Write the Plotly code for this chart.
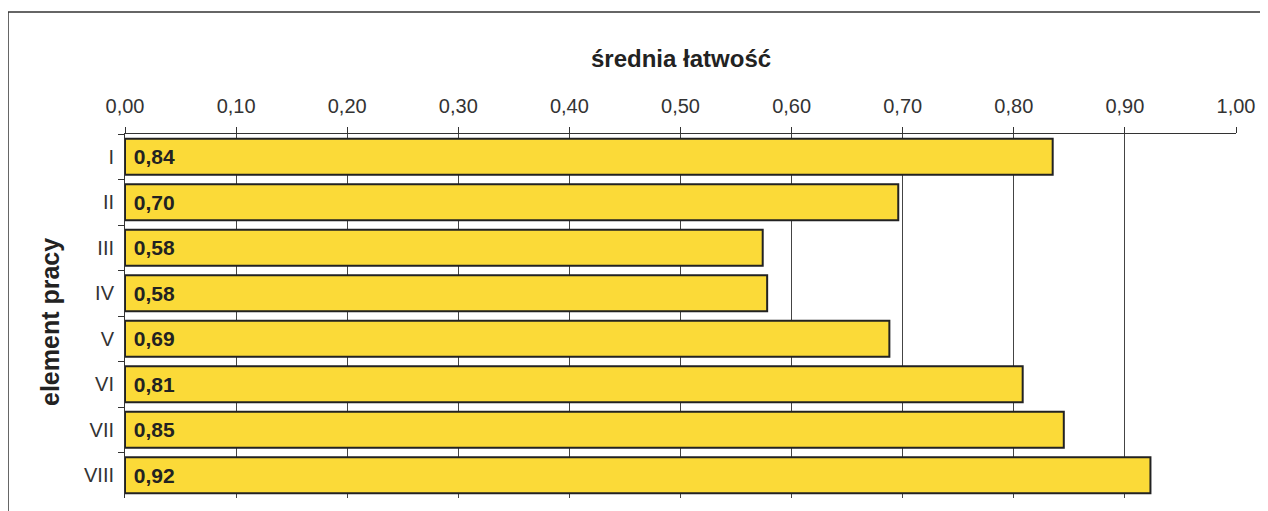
import plotly.graph_objects as go

categories = ["I", "II", "III", "IV", "V", "VI", "VII", "VIII"]
values = [0.835, 0.696, 0.574, 0.578, 0.688, 0.808, 0.845, 0.923]
labels = ["0,84", "0,70", "0,58", "0,58", "0,69", "0,81", "0,85", "0,92"]
x_ticks = [0.0, 0.1, 0.2, 0.3, 0.4, 0.5, 0.6, 0.7, 0.8, 0.9, 1.0]

OFF = 8  # page body margin
W, H = 1260, 503
# desired page-pixel positions of the plot area
PL, PR, PT, PB = 125, 1236, 134, 498
L, T = PL - OFF, PT - OFF
R = W - (PR - OFF)
B = H - (PB - OFF)
pw, ph = W - L - R, H - T - B

def px_x(p):  # page pixel -> paper x
    return (p - OFF - L) / pw

def px_y(p):  # page pixel -> paper y
    return (H - B - (p - OFF)) / ph

fig = go.Figure(go.Bar(
    y=categories, x=values, orientation="h",
    marker=dict(color="#FBDA38", line=dict(color="#222222", width=2)),
    width=0.79,
    text=[" " + s for s in labels],
    textposition="inside", insidetextanchor="start",
    textfont=dict(family="Liberation Sans", size=21, color="#222222", weight="bold"),
    hoverinfo="skip",
))

fig.update_layout(
    width=W, height=H,
    margin=dict(l=L, r=R, t=T, b=B),
    paper_bgcolor="white", plot_bgcolor="white",
    separators=", ",
    showlegend=False,
    font=dict(family="Liberation Sans", color="#333333"),
    xaxis=dict(
        side="top", range=[0, 1.0], tickvals=x_ticks, tickformat=".2f",
        showgrid=True, gridcolor="#444444", gridwidth=1,
        showline=True, linecolor="#333333", linewidth=1,
        ticks="outside", ticklen=6, tickcolor="#333333",
        tickfont=dict(size=20, color="#333333"),
        zeroline=False, ticklabelstandoff=6,
    ),
    yaxis=dict(
        autorange="reversed", type="category",
        showline=True, linecolor="#333333", linewidth=1,
        ticks="outside", ticklen=6, tickcolor="#333333", tickson="boundaries",
        tickfont=dict(size=20, color="#333333"),
        showgrid=False, ticklabelstandoff=6,
    ),
    shapes=[
        dict(type="line", xref="paper", yref="paper",
             x0=px_x(8), x1=px_x(1290), y0=px_y(12), y1=px_y(12),
             line=dict(color="#333333", width=1.5)),
        dict(type="line", xref="paper", yref="paper",
             x0=px_x(8), x1=px_x(8), y0=px_y(12), y1=px_y(530),
             line=dict(color="#333333", width=1.5)),
    ],
    annotations=[
        dict(text="<b>średnia łatwość</b>", xref="paper", yref="paper",
             x=0.5, y=px_y(58), xanchor="center", yanchor="middle",
             showarrow=False, font=dict(size=24, color="#222222")),
        dict(text="<b>element pracy</b>", xref="paper", yref="paper",
             x=px_x(50), y=px_y(322), xanchor="center", yanchor="middle",
             textangle=-90, showarrow=False, font=dict(size=25, color="#222222")),
    ],
)

fig.write_html("out.html")
